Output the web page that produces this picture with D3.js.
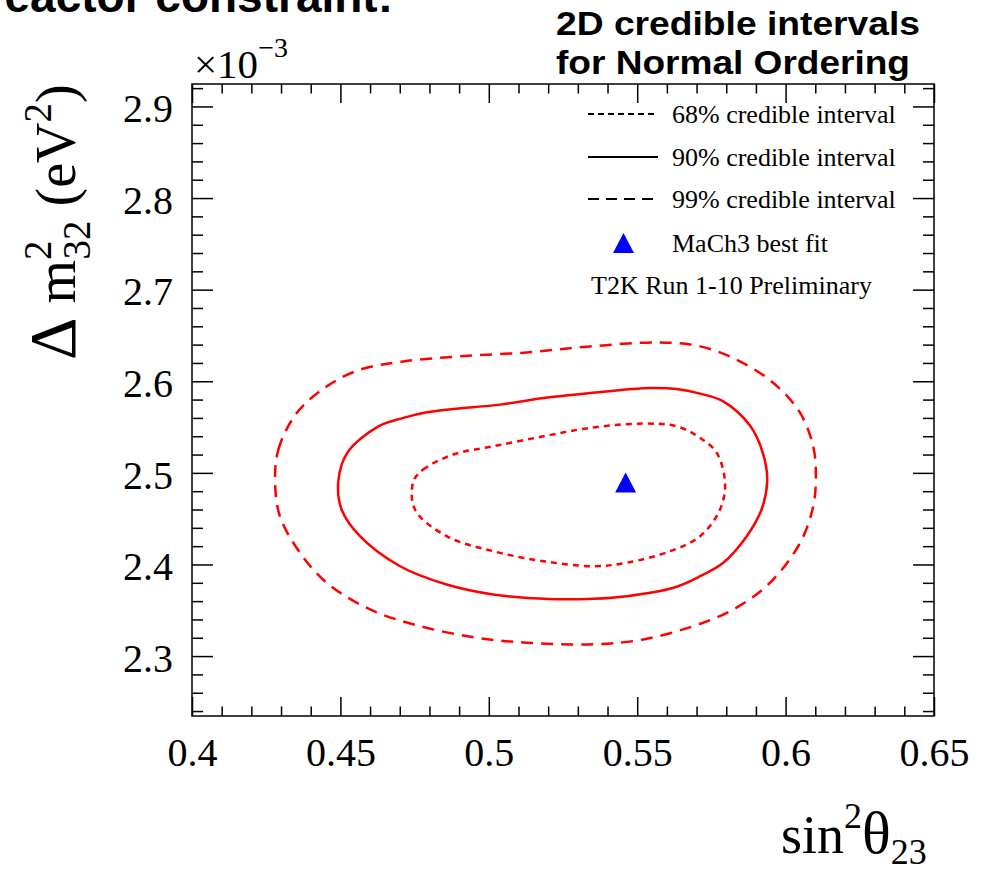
<!DOCTYPE html>
<html>
<head>
<meta charset="utf-8">
<script src="https://cdn.jsdelivr.net/npm/d3@7"></script>
<style>
  body { margin: 0; background: #fff; }
  svg { display: block; }
  .serif { font-family: "Liberation Serif", "Times New Roman", serif; fill: #000; }
  .sans { font-family: "Liberation Sans", Arial, sans-serif; font-weight: bold; fill: #000; }
</style>
</head>
<body>
<svg id="chart" width="988" height="873"></svg>
<script>
// Axis ticks and labels
const xTicks = [0.4, 0.45, 0.5, 0.55, 0.6, 0.65];
const xTickLabels = ["0.4", "0.45", "0.5", "0.55", "0.6", "0.65"];
const yTicks = [2.3, 2.4, 2.5, 2.6, 2.7, 2.8, 2.9];
const yTickLabels = ["2.3", "2.4", "2.5", "2.6", "2.7", "2.8", "2.9"];

// Credible-interval contours: [sin^2(theta23), dm2_32 (1e-3 eV^2)]
const contour68 = [
  [0.4746, 2.4908], [0.4779, 2.5036], [0.4880, 2.5200], [0.5015, 2.5290],
  [0.5184, 2.5399], [0.5341, 2.5491], [0.5521, 2.5538], [0.5633, 2.5508],
  [0.5712, 2.5382], [0.5768, 2.5218], [0.5796, 2.4891], [0.5779, 2.4600],
  [0.5712, 2.4309], [0.5611, 2.4145], [0.5465, 2.4019], [0.5352, 2.3981],
  [0.5184, 2.4036], [0.5015, 2.4145], [0.4858, 2.4309], [0.4751, 2.4600]
];
const contour90 = [
  [0.4493, 2.4908], [0.4523, 2.5218], [0.4628, 2.5508], [0.4712, 2.5600],
  [0.4791, 2.5661], [0.4880, 2.5698], [0.5038, 2.5745], [0.5184, 2.5818],
  [0.5341, 2.5872], [0.5543, 2.5927], [0.5633, 2.5916], [0.5712, 2.5865],
  [0.5790, 2.5781], [0.5880, 2.5516], [0.5925, 2.5200], [0.5938, 2.4908],
  [0.5919, 2.4600], [0.5869, 2.4309], [0.5790, 2.4019], [0.5712, 2.3872],
  [0.5622, 2.3746], [0.5465, 2.3654], [0.5352, 2.3626], [0.5184, 2.3626],
  [0.5015, 2.3673], [0.4858, 2.3782], [0.4701, 2.3981], [0.4566, 2.4309],
  [0.4504, 2.4600]
];
const contour99 = [
  [0.4280, 2.4908], [0.4291, 2.5254], [0.4353, 2.5654], [0.4454, 2.5944],
  [0.4566, 2.6127], [0.4712, 2.6217], [0.4903, 2.6272], [0.5128, 2.6315],
  [0.5341, 2.6380], [0.5577, 2.6424], [0.5712, 2.6381],
  [0.5835, 2.6236], [0.5959, 2.5981], [0.6049, 2.5654], [0.6093, 2.5290],
  [0.6102, 2.4963], [0.6093, 2.4636], [0.6049, 2.4237], [0.5947, 2.3800],
  [0.5824, 2.3509], [0.5689, 2.3327], [0.5521, 2.3182], [0.5352, 2.3128],
  [0.5128, 2.3146], [0.4959, 2.3201], [0.4768, 2.3327], [0.4600, 2.3509],
  [0.4454, 2.3800], [0.4364, 2.4128], [0.4296, 2.4527]
];
const bestFit = [0.5461, 2.4894];

const legendItems = [
  { label: "68% credible interval", dash: "6,4" },
  { label: "90% credible interval", dash: null },
  { label: "99% credible interval", dash: "11,7" }
];

const svg = d3.select("#chart");

const x = d3.scaleLinear().domain([0.4, 0.65]).range([192, 934]);
const y = d3.scaleLinear().domain([2.2346, 2.9245]).range([716, 84]);

const frame = { left: x(0.4), right: x(0.65), top: y(2.9245), bottom: y(2.2346) };

// Minor tick positions
const xMinor = d3.range(0, 26).map(i => +(0.4 + i * 0.01).toFixed(2)).filter(v => !xTicks.some(t => Math.abs(t - v) < 1e-9));
const yMinor = d3.range(0, 35).map(i => +(2.24 + i * 0.02).toFixed(2)).filter(v => !yTicks.some(t => Math.abs(t - v) < 1e-9));

function styleAxis(g) {
  g.select(".domain").remove();
  g.selectAll(".tick line").attr("stroke", "#000").attr("stroke-width", 1.5);
}

// Bottom axis with labels
const xAxis = d3.axisBottom(x).tickValues(xTicks).tickSize(-19).tickPadding(22)
  .tickFormat((d, i) => xTickLabels[i]);
svg.append("g").attr("transform", `translate(0,${frame.bottom})`).call(xAxis).call(styleAxis)
  .selectAll("text").attr("class", "serif").style("font-size", "40px").attr("fill", "#000");
svg.append("g").attr("transform", `translate(0,${frame.bottom})`)
  .call(d3.axisBottom(x).tickValues(xMinor).tickSize(-9.5).tickFormat(""))
  .call(styleAxis);

// Top axis (ticks only)
svg.append("g").attr("transform", `translate(0,${frame.top})`)
  .call(d3.axisTop(x).tickValues(xTicks).tickSize(-19).tickFormat("")).call(styleAxis);
svg.append("g").attr("transform", `translate(0,${frame.top})`)
  .call(d3.axisTop(x).tickValues(xMinor).tickSize(-9.5).tickFormat("")).call(styleAxis);

// Left axis with labels
const yAxis = d3.axisLeft(y).tickValues(yTicks).tickSize(-21).tickPadding(19)
  .tickFormat((d, i) => yTickLabels[i]);
svg.append("g").attr("transform", `translate(${frame.left},0)`).call(yAxis).call(styleAxis)
  .selectAll("text").attr("class", "serif").style("font-size", "40px").attr("dy", "0.38em").attr("fill", "#000");
svg.append("g").attr("transform", `translate(${frame.left},0)`)
  .call(d3.axisLeft(y).tickValues(yMinor).tickSize(-11).tickFormat("")).call(styleAxis);

// Right axis (ticks only)
svg.append("g").attr("transform", `translate(${frame.right},0)`)
  .call(d3.axisRight(y).tickValues(yTicks).tickSize(-21).tickFormat("")).call(styleAxis);
svg.append("g").attr("transform", `translate(${frame.right},0)`)
  .call(d3.axisRight(y).tickValues(yMinor).tickSize(-11).tickFormat("")).call(styleAxis);

// Frame
svg.append("rect")
  .attr("x", frame.left).attr("y", frame.top)
  .attr("width", frame.right - frame.left).attr("height", frame.bottom - frame.top)
  .attr("fill", "none").attr("stroke", "#000").attr("stroke-width", 1.5);

// Contours
const line = d3.line().x(d => x(d[0])).y(d => y(d[1])).curve(d3.curveCatmullRomClosed.alpha(0.5));
const contours = [
  { data: contour99, dash: "12,8" },
  { data: contour90, dash: null },
  { data: contour68, dash: "6,5" }
];
svg.append("g").selectAll("path").data(contours).join("path")
  .attr("d", d => line(d.data))
  .attr("fill", "none").attr("stroke", "#ff0000").attr("stroke-width", 2.5)
  .attr("stroke-dasharray", d => d.dash);

// Best-fit marker
function triangle(cx, cy, w, h) {
  return `M${cx},${cy - h / 2}L${cx + w / 2},${cy + h / 2}L${cx - w / 2},${cy + h / 2}Z`;
}
svg.append("path").attr("d", triangle(x(bestFit[0]), y(bestFit[1]), 21, 20)).attr("fill", "#0000ff");

// Legend
const legend = svg.append("g");
const rowY = [114, 157, 199];
legendItems.forEach((it, i) => {
  legend.append("line").attr("x1", 588).attr("x2", 658).attr("y1", rowY[i]).attr("y2", rowY[i])
    .attr("stroke", "#000").attr("stroke-width", 2).attr("stroke-dasharray", it.dash);
  legend.append("text").attr("class", "serif").attr("x", 672).attr("y", rowY[i] + 9)
    .style("font-size", "26px").text(it.label);
});
legend.append("path").attr("d", triangle(623.5, 243, 21, 20)).attr("fill", "#0000ff");
legend.append("text").attr("class", "serif").attr("x", 672).attr("y", 252)
  .style("font-size", "26px").text("MaCh3 best fit");
legend.append("text").attr("class", "serif").attr("x", 591).attr("y", 294)
  .style("font-size", "26px").text("T2K Run 1-10 Preliminary");

// Exponent marker above the y axis
const expo = svg.append("text").attr("class", "serif").attr("x", 194).attr("y", 78).style("font-size", "41px");
expo.append("tspan").text("×10");
expo.append("tspan").attr("dy", -21).style("font-size", "28px").text("−3");

// Y-axis title
const yt = svg.append("text").attr("class", "serif")
  .attr("transform", "translate(75,360) rotate(-90)").style("font-size", "56px");
yt.append("tspan").style("font-size", "66px").text("Δ");
yt.append("tspan").text(" m");
yt.append("tspan").attr("dy", -24).style("font-size", "39px").text("2");
yt.append("tspan").attr("dx", -19).attr("dy", 39).style("font-size", "39px").text("32");
yt.append("tspan").attr("dy", -15).text(" (eV");
yt.append("tspan").attr("dy", -24).style("font-size", "39px").text("2");
yt.append("tspan").attr("dy", 24).text(")");

// X-axis title
const xt = svg.append("text").attr("class", "serif").attr("x", 781).attr("y", 853).style("font-size", "54px");
xt.append("tspan").text("sin");
xt.append("tspan").attr("dy", -25).style("font-size", "36px").text("2");
xt.append("tspan").attr("dy", 25).style("font-size", "60px").text("θ");
xt.append("tspan").attr("dy", 11).style("font-size", "36px").text("23");

// Slide headings
svg.append("text").attr("class", "sans").attr("x", 393).attr("y", 12).attr("text-anchor", "end")
  .style("font-size", "46px").text("With reactor constraint:");
svg.append("text").attr("class", "sans").attr("x", 556).attr("y", 35).style("font-size", "34px")
  .attr("textLength", 364).attr("lengthAdjust", "spacingAndGlyphs")
  .text("2D credible intervals");
svg.append("text").attr("class", "sans").attr("x", 556).attr("y", 74).style("font-size", "34px")
  .attr("textLength", 354).attr("lengthAdjust", "spacingAndGlyphs")
  .text("for Normal Ordering");
</script>
</body>
</html>
